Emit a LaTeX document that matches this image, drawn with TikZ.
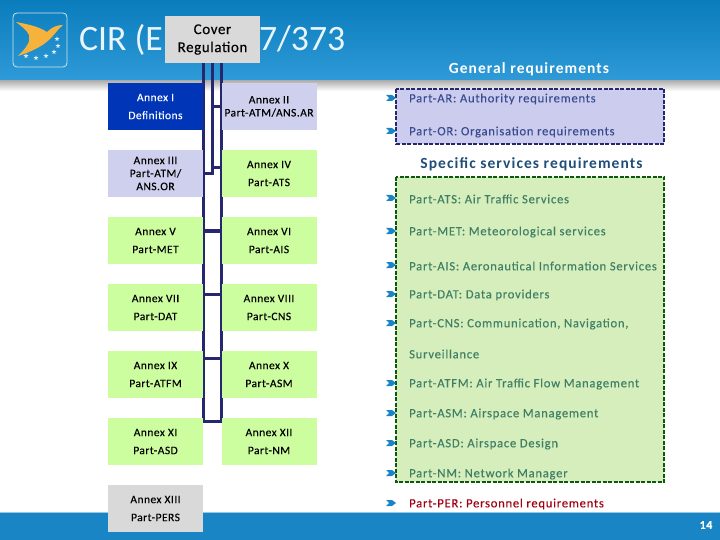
\documentclass[tikz,border=0pt]{standalone}
\usepackage{fontspec}
\setmainfont{Carlito}[LetterSpace=4,FakeBold=0.2]
\newfontfamily\titlefont{Carlito}
\newfontfamily\reqfont{Carlito}[LetterSpace=6,FakeBold=0.2]
\newfontfamily\headfont{Carlito}[LetterSpace=7]
\usepackage{tikz}
\usetikzlibrary{shapes.geometric}
\definecolor{easahead}{HTML}{0A7CBC}
\definecolor{easaband}{HTML}{2F9AD8}
\definecolor{easafoot}{HTML}{1A85C4}
\definecolor{easabird}{HTML}{F7B23B}
\definecolor{busnavy}{HTML}{25276F}
\definecolor{boxlilac}{HTML}{CED0EE}
\definecolor{boxgreen}{HTML}{CCFD9F}
\definecolor{boxgrey}{HTML}{D9D9D9}
\definecolor{boxblue}{HTML}{0035B8}
\definecolor{areaviolet}{HTML}{CCCDEE}
\definecolor{areagreen}{HTML}{D5EEBB}
\definecolor{areadash}{HTML}{0B5A0B}
\definecolor{txtviolet}{HTML}{3A4C90}
\definecolor{txtgreen}{HTML}{3F7F66}
\definecolor{txtred}{HTML}{A00010}
\definecolor{txthead}{HTML}{1F4E79}
\pgfdeclarelayer{boxes}
\pgfsetlayers{main,boxes}
\tikzset{
  annexbox/.style={minimum width=95pt,minimum height=47pt,inner sep=0pt,align=center,
    font=\fontsize{11.5}{13}\selectfont,text=black},
  annexlow/.style={annexbox,execute at begin node={\rule{0pt}{12pt}}},
  busline/.style={busnavy,line width=3pt},
  reqtext/.style={anchor=west,inner sep=0pt,font=\reqfont\fontsize{12.6}{14}\selectfont},
  bandhead/.style={inner sep=0pt,font=\headfont\fontsize{15.5}{17}\selectfont\bfseries},
  areadashed/.style={line width=2pt,dash pattern=on 4pt off 1.5pt},
  logostar/.style={star,star points=5,star point ratio=2.2,fill=white!85!easahead,inner sep=0pt,minimum size=5pt},
}
\begin{document}
\begin{tikzpicture}[x=1pt,y=-1pt]
        \useasboundingbox (0,0) rectangle (720,540);
        % header and footer bands
        \shade[top color=easahead,bottom color=easaband] (0,0) rectangle (720,81);
        \shade[top color=black!30,bottom color=white] (0,81) rectangle (720,91);
        \fill[easafoot] (0,512) rectangle (720,540);
        \draw[white!55!easafoot,thick] (0,512)--(720,512);
        % logo
        \draw[white!80!easahead,thick,rounded corners=4pt] (13,13) rectangle (67,67);
        \fill[easabird] (16,22) .. controls (26,24) and (38,26) .. (47,32)
          .. controls (52,27) and (57,25) .. (63,25)
          .. controls (58,29) and (55,34) .. (50,39)
          .. controls (42,47) and (30,52) .. (18,56)
          .. controls (26,48) and (31,42) .. (29,35)
          .. controls (27,30) and (21,26) .. (16,22) --cycle;
        \foreach \p/\n in {(57,39)/a,(58,46)/b,(54,52)/c,(46,56)/d,(36,58)/e,(26,56)/f}
          \node[logostar] (star\n) at \p {};
        % title and column heads
        \node[inner sep=0pt,anchor=west,text=white!90!easaband,font=\titlefont\fontsize{35.7}{40}\selectfont] (title) at (79,40) {CIR (EU) 2017/373};
        \node[bandhead,text=white] (general) at (529,69) {General requirements};
        \node[bandhead,text=txthead] (specific) at (531.5,164) {Specific services requirements};
        % annexes
        \begin{pgfonlayer}{boxes}
        \node[annexbox,fill=boxgrey,font=\fontsize{15}{18}\selectfont,execute at begin node={\rule{0pt}{13pt}}] (cover) at (212.5,39.5) {Cover\\Regulation};
        \foreach \n/\x/\y/\c/\t in {
            annexiii/155.5/173.5/boxlilac/{Annex III\\Part-ATM/\\ANS.OR},
            annexiv/269/173.5/boxgreen/{Annex IV\\[5pt]Part-ATS},
            annexv/155.5/240.5/boxgreen/{Annex V\\[5pt]Part-MET},
            annexvi/269/240.5/boxgreen/{Annex VI\\[5pt]Part-AIS},
            annexvii/155.5/307.5/boxgreen/{Annex VII\\[5pt]Part-DAT},
            annexviii/269/307.5/boxgreen/{Annex VIII\\[5pt]Part-CNS},
            annexix/155.5/374.5/boxgreen/{Annex IX\\[5pt]Part-ATFM},
            annexx/269/374.5/boxgreen/{Annex X\\[5pt]Part-ASM},
            annexxi/155.5/441.5/boxgreen/{Annex XI\\[5pt]Part-ASD},
            annexxii/269/441.5/boxgreen/{Annex XII\\[5pt]Part-NM},
            annexxiii/155.5/508.5/boxgrey/{Annex XIII\\[5pt]Part-PERS}}
          \node[annexlow,fill=\c] (\n) at (\x,\y) {\t};
        \node[annexlow,fill=boxblue,text=white] (annexi) at (155.5,106.5) {Annex I\\[5pt]Definitions};
        \node[annexbox,fill=boxlilac] (annexii) at (269,106.5) {Annex II\\Part-ATM/ANS.AR};
        \end{pgfonlayer}
        % bus from the cover regulation
        \coordinate (busend) at (212.5,421);
        \draw[busline] (cover.south -| annexi.east)--(busend -| annexi.east)--(busend -| annexii.west)--(cover.south -| annexii.west);
        \draw[busline] (cover.south)--(annexiii.east -| cover.south)--(annexiii.east);
        \draw[busline] (annexii.west -| cover.south)--(annexii.west);
        \draw[busline] ([yshift=5.5pt]annexiv.west -| cover.south)--([yshift=5.5pt]annexiv.west);
        \foreach \a/\b/\s in {annexv/annexvi/9.5,annexvii/annexviii/13.5,annexix/annexx/16.5}
          \draw[busline] ([yshift=\s pt]\a.east)--([yshift=\s pt]\b.west);
        % requirement areas
        \fill[areaviolet] (396,89) rectangle (664,144);
        \draw[busnavy,areadashed] (396,89) rectangle (664,144);
        \fill[areagreen] (396,177) rectangle (664,482);
        \draw[areadash,areadashed] (396,177) rectangle (664,482);
        \foreach \n/\y/\c/\t in {
            ar/99/txtviolet/{Part-AR: Authority requirements},
            or/132/txtviolet/{Part-OR: Organisation requirements},
            ats/199/txtgreen/{Part-ATS: Air Traffic Services},
            met/232/txtgreen/{Part-MET: Meteorological services},
            ais/266/txtgreen/{Part-AIS: Aeronautical Information Services},
            dat/295/txtgreen/{Part-DAT: Data providers},
            cns/324/txtgreen/{Part-CNS: Communication, Navigation,},
            atfm/384/txtgreen/{Part-ATFM: Air Traffic Flow Management},
            asm/414/txtgreen/{Part-ASM: Airspace Management},
            asd/444/txtgreen/{Part-ASD: Airspace Design},
            nm/474/txtgreen/{Part-NM: Network Manager},
            per/504/txtred/{Part-PER: Personnel requirements}}{
          \node[reqtext,text=\c] (\n) at (409,\y) {\t};
          \fill[easafoot] (386,\y-4)--(392,\y-4)--(396,\y-1)--(392,\y+2)--(386,\y+2)--(389,\y-1)--cycle;
        }
        \node[reqtext,text=txtgreen] (surv) at (409,354) {Surveillance};
        \node[inner sep=0pt,text=white,font=\fontsize{12}{14}\selectfont\bfseries] (pageno) at (706,525) {14};
      \end{tikzpicture}
\end{document}
